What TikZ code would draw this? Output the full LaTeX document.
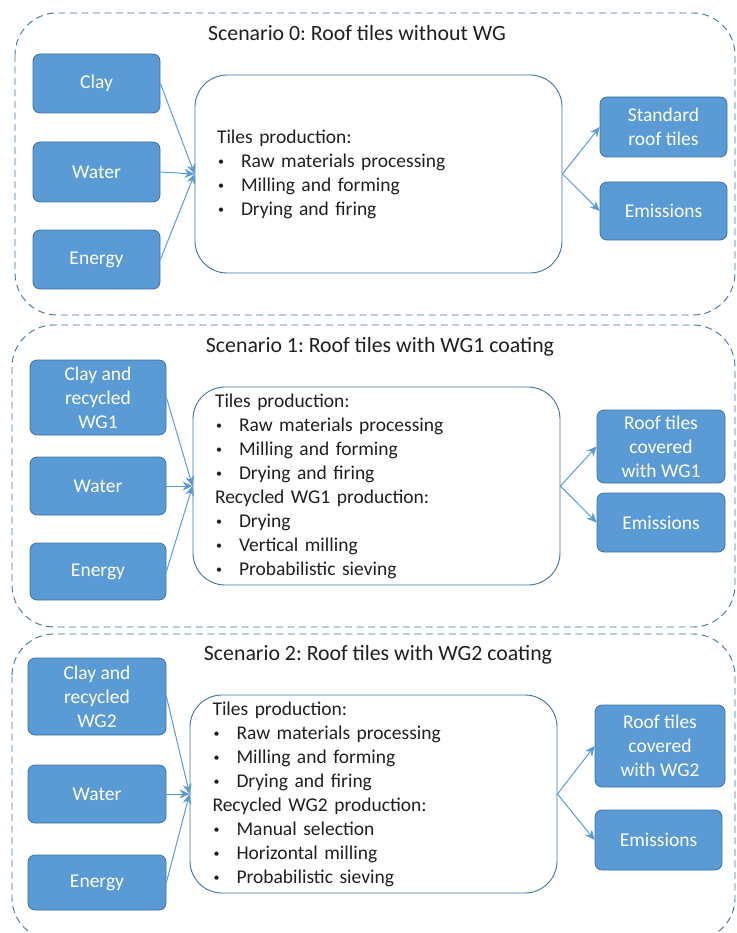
\documentclass[tikz,border=0pt]{standalone}
\usepackage{fontspec}
\setmainfont{Carlito}
\usetikzlibrary{arrows.meta}
\definecolor{boxblue}{HTML}{5B9BD5}
\definecolor{edgeblue}{HTML}{41719C}
\definecolor{txtgray}{HTML}{1F1F1F}
\newcommand\bl{\makebox[24pt][l]{\hspace{1pt}\raisebox{1.6pt}{\fontsize{12}{12}\selectfont\textbullet}}}
\frenchspacing
\begin{document}
\begin{tikzpicture}[x=1pt,y=-1pt,
  font=\fontsize{19.5}{24}\selectfont,
  inbox/.style={draw=edgeblue, line width=0.8pt, fill=boxblue, rounded corners=7pt,
    text=white, align=center, inner sep=0pt},
  procbox/.style={draw=edgeblue, line width=0.9pt, rounded corners=32pt, align=left,
    inner xsep=22pt, inner ysep=0pt, text=txtgray},
  scen/.style={draw=edgeblue, dash pattern=on 7pt off 4.5pt, line width=0.9pt, rounded corners=42pt},
  ttl/.style={text=txtgray, inner sep=0pt, font=\fontsize{21.8}{26}\selectfont},
  flow/.style={draw=boxblue, line width=1pt, -{Stealth[length=10pt,width=9pt]}}]
\useasboundingbox (0,0) rectangle (736,933);
\clip (0,0) rectangle (736,933);

% ---------- Scenario 0 ----------
\draw[scen] (15,13) rectangle (735,315);
\node[ttl] (t0) at (357,33) {Scenario 0: Roof tiles without WG};
\node[inbox, minimum width=127pt, minimum height=59pt] (a0) at (96.5,83.5) {Clay};
\node[inbox, minimum width=127pt, minimum height=60pt] (b0) at (96.5,172) {Water};
\node[inbox, minimum width=127pt, minimum height=59pt] (c0) at (96.5,259.5) {Energy};
\node[procbox, text width=323pt, minimum height=198pt] (p0) at (378.5,174)
  {Tiles production:\\
   \bl Raw materials processing\\
   \bl Milling and forming\\
   \bl Drying and firing};
\node[inbox, minimum width=127pt, minimum height=60pt] (o0) at (663.5,127) {Standard\\roof tiles};
\node[inbox, minimum width=127pt, minimum height=58pt] (e0) at (663.5,211) {Emissions};
\draw[flow] (a0.east) -- (p0.west);
\draw[flow] (b0.east) -- (p0.west);
\draw[flow] (c0.east) -- (p0.west);
\draw[flow] (p0.east) -- (o0.west);
\draw[flow] (p0.east) -- (e0.west);

% ---------- Scenario 1 ----------
\draw[scen] (12,325) rectangle (735,627);
\node[ttl] (t1) at (380,347) {Scenario 1: Roof tiles with WG1 coating};
\node[inbox, minimum width=136pt, minimum height=75pt] (a1) at (98,397.5) {Clay and\\recycled\\WG1};
\node[inbox, minimum width=136pt, minimum height=58pt] (b1) at (98,486) {Water};
\node[inbox, minimum width=136pt, minimum height=57pt] (c1) at (98,571.5) {Energy};
\node[procbox, text width=323pt, minimum height=198pt] (p1) at (376.5,486)
  {Tiles production:\\
   \bl Raw materials processing\\
   \bl Milling and forming\\
   \bl Drying and firing\\
   Recycled WG1 production:\\
   \bl Drying\\
   \bl Vertical milling\\
   \bl Probabilistic sieving};
\node[inbox, minimum width=128pt, minimum height=73pt] (o1) at (661,446.5) {Roof tiles\\covered\\with WG1};
\node[inbox, minimum width=128pt, minimum height=59pt] (e1) at (661,522.5) {Emissions};
\draw[flow] (a1.east) -- (p1.west);
\draw[flow] (b1.east) -- (p1.west);
\draw[flow] (c1.east) -- (p1.west);
\draw[flow] (p1.east) -- (o1.west);
\draw[flow] (p1.east) -- (e1.west);

% ---------- Scenario 2 ----------
\draw[scen] (12,634) rectangle (735,940);
\node[ttl] (t2) at (378,655) {Scenario 2: Roof tiles with WG2 coating};
\node[inbox, minimum width=138pt, minimum height=77pt] (a2) at (97,696.5) {Clay and\\recycled\\WG2};
\node[inbox, minimum width=138pt, minimum height=58pt] (b2) at (97,794) {Water};
\node[inbox, minimum width=138pt, minimum height=55pt] (c2) at (97,882.5) {Energy};
\node[procbox, text width=322pt, minimum height=198pt, inner xsep=22.5pt] (p2) at (373.5,794)
  {Tiles production:\\
   \bl Raw materials processing\\
   \bl Milling and forming\\
   \bl Drying and firing\\
   Recycled WG2 production:\\
   \bl Manual selection\\
   \bl Horizontal milling\\
   \bl Probabilistic sieving};
\node[inbox, minimum width=130pt, minimum height=82pt] (o2) at (660,746) {Roof tiles\\covered\\with WG2};
\node[inbox, minimum width=127pt, minimum height=60pt] (e2) at (658.5,840) {Emissions};
\draw[flow] (a2.east) -- (p2.west);
\draw[flow] (b2.east) -- (p2.west);
\draw[flow] (c2.east) -- (p2.west);
\draw[flow] (p2.east) -- (o2.west);
\draw[flow] (p2.east) -- (e2.west);
\end{tikzpicture}
\end{document}
